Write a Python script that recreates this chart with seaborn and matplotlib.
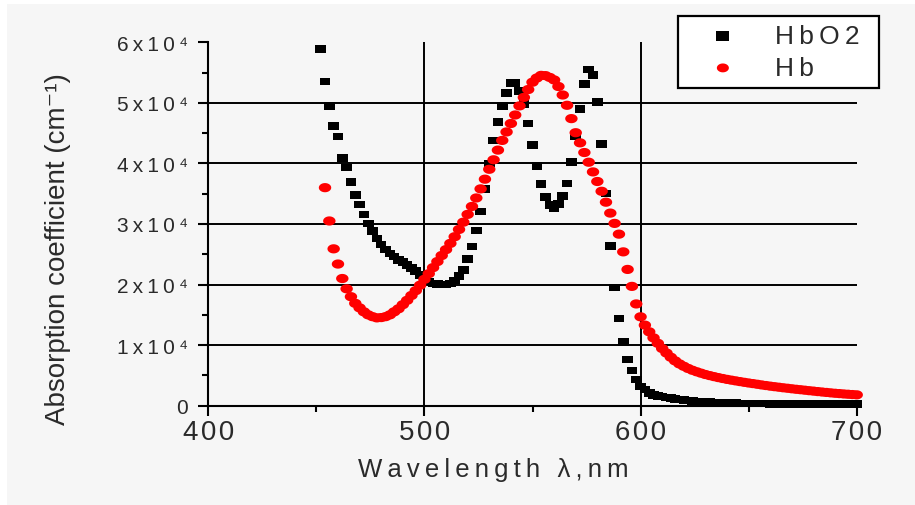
import numpy as np
import matplotlib
matplotlib.use("Agg")
import matplotlib.pyplot as plt
from matplotlib.markers import MarkerStyle
from matplotlib.patches import Rectangle
from matplotlib.ticker import MultipleLocator
import seaborn as sns

# Molar extinction spectra of oxy- and deoxy-haemoglobin, sampled every 2 nm
wavelength_hbo2 = np.arange(452, 701, 2)
hbo2 = [
    58864, 53552, 49516, 46160, 44480, 40900, 39300, 36900, 34800, 33209,
    31600, 30100, 28800, 27600, 26629, 25800, 25100, 24600, 24100, 23684,
    23200, 22700, 22200, 21600, 20933, 20500, 20200, 20050, 20000, 20035,
    20200, 20700, 21400, 22400, 24202, 26300, 28900, 32100, 35800, 39957,
    43800, 46800, 49500, 51600, 53236, 53292, 52000, 49800, 46600, 43016,
    39600, 36600, 34500, 33100, 32613, 33300, 34600, 36700, 40200, 44496,
    49000, 53100, 55540, 54600, 50104, 43200, 35000, 26400, 19500, 14401,
    10500, 7600, 5800, 4300, 3200, 2664, 2128, 1789, 1647, 1506,
    1388, 1270, 1152, 1047, 942, 854, 767, 720, 664, 610,
    574, 538, 503, 472, 442, 425, 408, 392, 380, 368,
    358, 348, 339, 329, 320, 314, 308, 304, 298, 294,
    290, 286, 284, 280, 278, 276, 276, 276, 276, 276,
    276, 278, 280, 284, 290,
]
wavelength_hb = np.arange(454, 701, 2)
hb = [
    36000, 30500, 25900, 23389, 21000, 19300, 18000, 16900, 16156, 15500,
    15000, 14700, 14500, 14550, 14700, 15000, 15500, 16000, 16684, 17400,
    18200, 19000, 19900, 20862, 21800, 22800, 23800, 24800, 25774, 26800,
    27900, 29100, 30300, 31590, 32900, 34300, 35800, 37400, 39036, 40600,
    42200, 43800, 45200, 46592, 48000, 49500, 50900, 52200, 53412, 54100,
    54540, 54500, 54200, 53788, 52700, 51300, 49600, 47400, 45072, 43400,
    41800, 40200, 38600, 37020, 35400, 33600, 31800, 30100, 28324, 25400,
    22500, 19700, 16800, 14677, 13300, 12200, 11200, 10300, 9444, 8700,
    8000, 7400, 6900, 6510, 6150, 5850, 5600, 5370, 5149, 4970,
    4800, 4640, 4490, 4345, 4220, 4100, 3980, 3860, 3750, 3650,
    3540, 3430, 3330, 3227, 3140, 3050, 2960, 2880, 2795, 2710,
    2640, 2560, 2480, 2408, 2330, 2260, 2190, 2120, 2052, 2000,
    1940, 1890, 1840, 1794,
]

series_names = ["HbO2", "Hb"]
series_colors = ["#000000", "#ff0000"]

x_ticks = [400, 500, 600, 700]
x_tick_labels = ["400", "500", "600", "700"]
y_ticks = [0, 10000, 20000, 30000, 40000, 50000, 60000]
y_tick_labels = ["0", "1x10\u2074", "2x10\u2074", "3x10\u2074",
                 "4x10\u2074", "5x10\u2074", "6x10\u2074"]
x_label = "Wavelength \u03bb,nm"
y_label = "Absorption coefficient (cm\u207b\u00b9)"


def tracked(text, gap="\u2009"):
    """Widen letter spacing by putting a narrow space between characters."""
    return gap.join(text)


sns.set_theme(style="ticks")
plt.rcParams["font.family"] = ["Liberation Sans", "DejaVu Sans"]
text_color = "#2a2a2a"
bg = "#f6f6f6"

fig = plt.figure(figsize=(9.15, 5.06), dpi=100, facecolor=bg)
W, H = 915, 506
ax = fig.add_axes([208.3 / W, 1 - 406.7 / H, 648.4 / W, 363.4 / H])
ax.set_facecolor(bg)

# white margin strips along the top and left edges
fig.add_artist(Rectangle((0, 1 - 5 / H), 1, 5 / H, transform=fig.transFigure,
                         facecolor="white", edgecolor="none", zorder=0))
fig.add_artist(Rectangle((0, 0), 7 / W, 1, transform=fig.transFigure,
                         facecolor="white", edgecolor="none", zorder=0))

# slightly wide markers: flat squares and flat dots
rect_marker = MarkerStyle(np.array([[-1.4, -1], [1.4, -1], [1.4, 1],
                                    [-1.4, 1], [-1.4, -1]]))
t = np.linspace(0, 2 * np.pi, 41)
dot_marker = MarkerStyle(np.column_stack([1.35 * np.cos(t), np.sin(t)]))

sns.scatterplot(x=wavelength_hbo2, y=hbo2, marker=rect_marker, s=58,
                color=series_colors[0], edgecolor="none", linewidth=0,
                label=tracked(series_names[0]), ax=ax, clip_on=False, zorder=3)
sns.scatterplot(x=wavelength_hb, y=hb, marker=dot_marker, s=80,
                color=series_colors[1], edgecolor="none", linewidth=0,
                label=tracked(series_names[1]), ax=ax, clip_on=False, zorder=4)

ax.set_xlim(x_ticks[0], x_ticks[-1])
ax.set_ylim(y_ticks[0], y_ticks[-1])
ax.set_xticks(x_ticks)
ax.set_xticklabels([tracked(s, "\u200a") for s in x_tick_labels])
ax.set_yticks(y_ticks)
ax.set_yticklabels([tracked(s) for s in y_tick_labels])
ax.xaxis.set_minor_locator(MultipleLocator(50))
ax.yaxis.set_minor_locator(MultipleLocator(5000))

ax.tick_params(axis="both", which="major", direction="out", length=7.5,
               width=1.5, color="black", labelcolor=text_color)
ax.tick_params(axis="both", which="minor", direction="out", length=4.3,
               width=1.5, color="black")
ax.tick_params(axis="x", which="major", labelsize=20, pad=2)
ax.tick_params(axis="y", which="major", labelsize=15, pad=7)

for side in ["top", "right"]:
    ax.spines[side].set_visible(False)
for side in ["left", "bottom"]:
    ax.spines[side].set_color("black")
    ax.spines[side].set_linewidth(1.5)

# interior grid only: no lines along the plot edges
ax.set_axisbelow(True)
ax.grid(True, which="major", color="black", linewidth=1.4)
for tick, loc in zip(ax.xaxis.get_major_ticks(), x_ticks):
    tick.gridline.set_visible(x_ticks[0] < loc < x_ticks[-1])
for tick, loc in zip(ax.yaxis.get_major_ticks(), y_ticks):
    tick.gridline.set_visible(y_ticks[0] < loc < y_ticks[-1])

ax.set_xlabel(tracked(x_label), fontsize=18.5, color=text_color)
ax.xaxis.set_label_coords(0.44, -0.141)
ax.set_ylabel(y_label, fontsize=20, color=text_color)
ax.yaxis.set_label_coords(-0.212, 0.435)

leg = ax.legend(loc="upper left",
                bbox_to_anchor=(678 / W, 1 - 92 / H, 201 / W, 75 / H),
                bbox_transform=fig.transFigure, mode="expand",
                frameon=True, fancybox=False, edgecolor="black",
                facecolor="white", framealpha=1, fontsize=19,
                handlelength=2.8, handletextpad=0.56, borderpad=0.3,
                labelspacing=0.3, borderaxespad=0, markerscale=1,
                scatterpoints=1)
leg.get_frame().set_linewidth(1.6)
for handle, size in zip(leg.legend_handles, [85, 75]):
    handle.set_sizes([size])
for txt in leg.get_texts():
    txt.set_color(text_color)

fig.savefig("out.png", dpi=100, facecolor=fig.get_facecolor())
